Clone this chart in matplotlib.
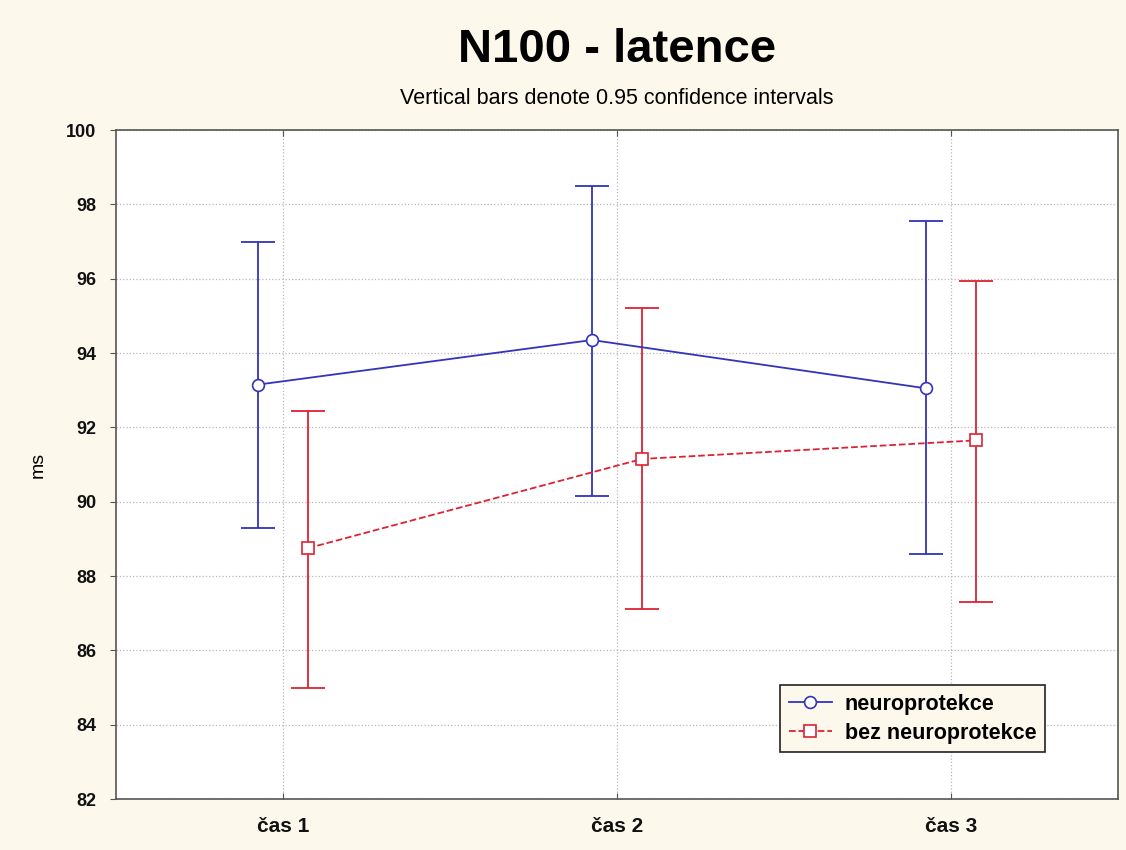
import matplotlib.pyplot as plt
import numpy as np

plt.rcParams['font.family'] = ['Liberation Sans', 'DejaVu Sans']

labels = ['čas 1', 'čas 2', 'čas 3']
neuro_mean = [93.15, 94.35, 93.05]
neuro_low = [89.3, 90.15, 88.6]
neuro_high = [97.0, 98.5, 97.55]
bez_mean = [88.75, 91.15, 91.65]
bez_low = [85.0, 87.1, 87.3]
bez_high = [92.45, 95.2, 95.95]

bg = '#fcf8ec'
blue = '#3333bb'
red = '#dd2233'

fig = plt.figure(figsize=(11.26, 8.5), dpi=100, facecolor=bg)
ax = fig.add_axes([0.103, 0.06, 0.89, 0.787])
ax.set_facecolor('white')

x = np.arange(1, len(labels) + 1)
off = 0.075

def draw(xs, mean, low, high, color, marker, ls, label):
    mean = np.array(mean)
    err = [mean - np.array(low), np.array(high) - mean]
    ax.errorbar(xs, mean, yerr=err, fmt='none', ecolor=color, elinewidth=1.3,
                capsize=12, capthick=1.3, zorder=3)
    ax.plot(xs, mean, color=color, linestyle=ls, linewidth=1.3, marker=marker,
            markersize=8.5, markerfacecolor='white', markeredgecolor=color,
            markeredgewidth=1.2, label=label, zorder=4)

draw(x - off, neuro_mean, neuro_low, neuro_high, blue, 'o', '-', 'neuroprotekce')
draw(x + off, bez_mean, bez_low, bez_high, red, 's', '--', 'bez neuroprotekce')

ax.set_xlim(0.5, 3.5)
ax.set_ylim(82, 100)
ax.set_xticks(x)
ax.set_xticklabels(labels)
ax.set_yticks(np.arange(82, 101, 2))
ax.grid(True, color='#b8b8b8', linestyle=':', linewidth=0.9)
ax.set_axisbelow(True)

for sp in ax.spines.values():
    sp.set_color('#555555')
    sp.set_linewidth(1.2)

ax.tick_params(axis='y', direction='out', length=4, color='#555555', pad=10)
ax.tick_params(axis='x', direction='in', length=4, color='#555555', top=True, pad=13)
for t in ax.get_yticklabels():
    t.set_fontsize(13)
    t.set_fontweight('bold')
    t.set_color('#111111')
for t in ax.get_xticklabels():
    t.set_fontsize(15)
    t.set_fontweight('bold')
    t.set_color('#111111')

ax.set_ylabel('ms', fontsize=14, labelpad=14)

fig.text(0.548, 0.941, 'N100 - latence', ha='center', va='center',
         fontsize=34, fontweight='bold')
fig.text(0.548, 0.884, 'Vertical bars denote 0.95 confidence intervals',
         ha='center', va='center', fontsize=15.5)

leg = ax.legend(loc='lower right', bbox_to_anchor=(0.927, 0.07), fancybox=False,
                framealpha=1, facecolor=bg, edgecolor='#222222',
                prop={'size': 15.5, 'weight': 'bold'}, handlelength=2.0,
                borderpad=0.4, labelspacing=0.35, handletextpad=0.6,
                borderaxespad=0)
leg.get_frame().set_linewidth(1.2)

fig.savefig('out.png', dpi=100, facecolor=bg)
